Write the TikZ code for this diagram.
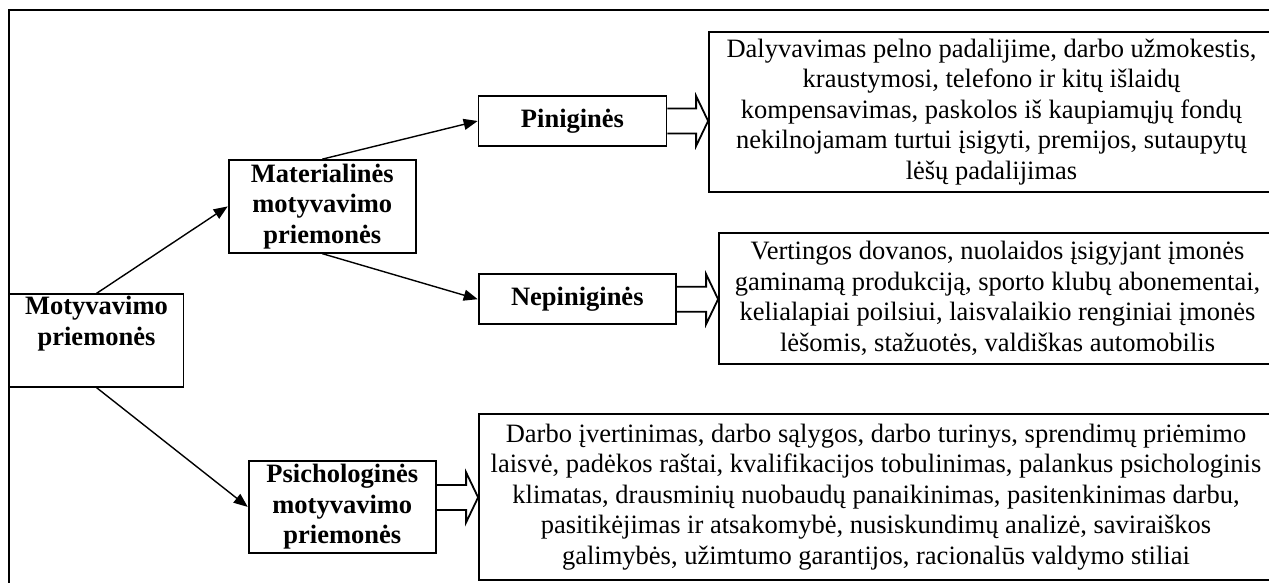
\documentclass[tikz,border=0pt]{standalone}
\usepackage{fontspec}
\setmainfont{Liberation Serif}
\usetikzlibrary{arrows.meta,calc}
\newcommand{\blockarrow}[3]{%
  \draw[barrow] let \p1=($(#1.east)+(0,#3)$), \p2=(#2.west) in
    (\x1,\y1+12.5pt) -- (\x2-12pt,\y1+12.5pt) -- (\x2-12pt,\y1+25pt) -- (\x2,\y1)
    -- (\x2-12pt,\y1-25pt) -- (\x2-12pt,\y1-12.5pt) -- (\x1,\y1-12.5pt);
}
\begin{document}
\begin{tikzpicture}[x=1pt,y=-1pt,
  lbl/.style={draw, line width=1.8pt, inner sep=0pt, align=center,
    font=\fontsize{26.5}{30.5}\selectfont\bfseries},
  txt/.style={draw, line width=1.8pt, inner sep=0pt, align=center,
    font=\fontsize{26.5}{30.5}\selectfont},
  conn/.style={line width=1.4pt, -{Triangle[length=14pt,width=11pt]}},
  barrow/.style={line width=1.8pt, line join=miter}
]
\useasboundingbox (0,0) rectangle (1269,583);
\clip (0,0) rectangle (1269,583);
\fill[white] (0,0) rectangle (1269,583);
% outer frame
\draw[line width=2pt] (8.5,10) rectangle (1320,640);

% label boxes
\node[lbl, minimum width=174pt, minimum height=92.4pt] (mot) at (96.5,340.5)
  {Motyvavimo\\priemonės\\\strut};
\node[lbl, minimum width=187.4pt, minimum height=92.7pt] (mat) at (322.3,206.4)
  {Materialinės\\motyvavimo\\priemonės};
\node[lbl, minimum width=187.9pt, minimum height=50pt] (pin) at (572.5,121)
  {Piniginės};
\node[lbl, minimum width=197.4pt, minimum height=50.3pt] (nep) at (577.3,299.2)
  {Nepiniginės};
\node[lbl, minimum width=187.3pt, minimum height=92.3pt] (psy) at (342.3,506.9)
  {Psichologinės\\motyvavimo\\priemonės};

% text boxes
\node[txt, minimum width=565pt, minimum height=160pt] (pt) at (991.5,112)
  {Dalyvavimas pelno padalijime, darbo užmokestis,\\
   kraustymosi, telefono ir kitų išlaidų\\
   kompensavimas, paskolos iš kaupiamųjų fondų\\
   nekilnojamam turtui įsigyti, premijos, sutaupytų\\
   lėšų padalijimas};
\node[txt, minimum width=557pt, minimum height=131pt] (nt) at (997.5,298.5)
  {Vertingos dovanos, nuolaidos įsigyjant įmonės\\
   gaminamą produkciją, sporto klubų abonementai,\\
   kelialapiai poilsiui, laisvalaikio renginiai įmonės\\
   lėšomis, stažuotės, valdiškas automobilis};
\node[txt, minimum width=794pt, minimum height=166pt] (st) at (876,497)
  {Darbo įvertinimas, darbo sąlygos, darbo turinys, sprendimų priėmimo\\
   laisvė, padėkos raštai, kvalifikacijos tobulinimas, palankus psichologinis\\
   klimatas, drausminių nuobaudų panaikinimas, pasitenkinimas darbu,\\
   pasitikėjimas ir atsakomybė, nusiskundimų analizė, saviraiškos\\
   galimybės, užimtumo garantijos, racionalūs valdymo stiliai};

% connectors
\draw[conn] (mot.north) -- (mat.west);
\draw[conn] (mat.north) -- (pin.west);
\draw[conn] (mat.south) -- (nep.west);
\draw[conn] (mot.south) -- (psy.west);

% block arrows
\blockarrow{pin}{pt}{0}
\blockarrow{nep}{nt}{0}
\blockarrow{psy}{st}{-9.5}
\end{tikzpicture}
\end{document}
